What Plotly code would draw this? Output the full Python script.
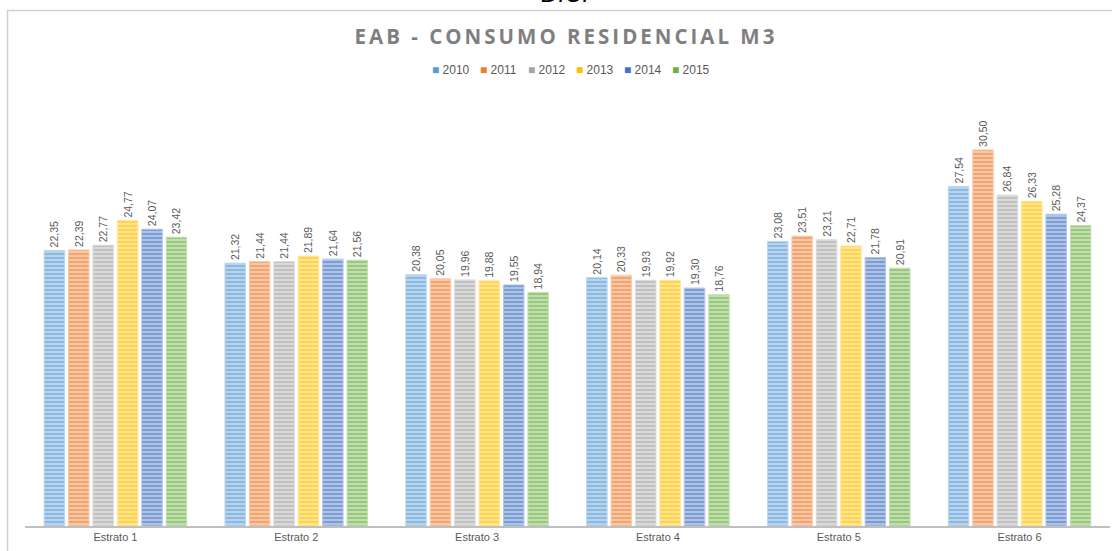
import plotly.graph_objects as go

categories = ["Estrato 1", "Estrato 2", "Estrato 3", "Estrato 4", "Estrato 5", "Estrato 6"]
years = ["2010", "2011", "2012", "2013", "2014", "2015"]
values = {
    "2010": [22.35, 21.32, 20.38, 20.14, 23.08, 27.54],
    "2011": [22.39, 21.44, 20.05, 20.33, 23.51, 30.50],
    "2012": [22.77, 21.44, 19.96, 19.93, 23.21, 26.84],
    "2013": [24.77, 21.89, 19.88, 19.92, 22.71, 26.33],
    "2014": [24.07, 21.64, 19.55, 19.30, 21.78, 25.28],
    "2015": [23.42, 21.56, 18.94, 18.76, 20.91, 24.37],
}
colors = ["#5B9BD5", "#ED7D31", "#A5A5A5", "#FFC000", "#4472C4", "#70AD47"]
light = ["#BDD7EE", "#F8CBAD", "#DBDBDB", "#FFE699", "#B4C7E7", "#C5E0B4"]

W, HT = 1112, 551
L, R, T, B = 25, 2, 80, 25
PW, PH = W - L - R, HT - T - B


def px(x):
    return (x - L) / PW


def py(y):
    return (HT - B - y) / PH


fig = go.Figure()
for y, c, lc in zip(years, colors, light):
    fig.add_trace(go.Bar(
        x=categories, y=values[y], name=y,
        marker=dict(color=c, line=dict(color=lc, width=1),
                    pattern=dict(shape="-", fgcolor=c, bgcolor=lc, size=4, solidity=0.55)),
        texttemplate="%{y:.2f}", textposition="outside", textangle=-90,
        constraintext="none",
        textfont=dict(size=10.5, color="#595959", family="Liberation Sans"),
        cliponaxis=False,
    ))

fig.update_layout(
    width=W, height=HT,
    margin=dict(l=L, r=R, t=T, b=B),
    paper_bgcolor="white", plot_bgcolor="white",
    separators=",.",
    barmode="group", bargap=0.19, bargroupgap=0.16,
    title=dict(text="<span style='letter-spacing:3px'><b>EAB - CONSUMO RESIDENCIAL M3</b></span>",
               x=566 / W, xanchor="center", y=1 - 37 / HT, yanchor="middle",
               font=dict(size=20.5, color="#7F7F7F", family="Open Sans")),
    showlegend=False,
    xaxis=dict(showline=True, linecolor="#BFBFBF", linewidth=2, ticks="",
               tickfont=dict(size=11, color="#595959", family="Liberation Sans")),
    yaxis=dict(range=[0, 36.17], visible=False, showgrid=False),
)

# legend drawn as annotations (compact Excel-style spacing)
leg_x0, leg_step = 430, 48
for i, (yr, c) in enumerate(zip(years, colors)):
    fig.add_annotation(
        text=f"<span style='color:{c}'>■</span> {yr}", xref="paper", yref="paper",
        x=px(leg_x0 + i * leg_step), y=py(70), xanchor="left", yanchor="middle",
        showarrow=False, font=dict(size=12, color="#595959", family="Liberation Sans"))

fig.add_shape(type="line", xref="paper", yref="paper",
              x0=px(7), x1=px(W + 5), y0=py(10.5), y1=py(10.5),
              line=dict(color="#D0D0D0", width=1.5))
fig.add_shape(type="line", xref="paper", yref="paper",
              x0=px(7.5), x1=px(7.5), y0=py(10), y1=py(HT + 5),
              line=dict(color="#D0D0D0", width=1.5))
fig.add_annotation(text="<i>D.C.</i>", xref="paper", yref="paper",
                   x=px(565), y=py(9), yanchor="bottom", showarrow=False,
                   font=dict(size=24, color="black", family="Liberation Sans"))

fig.write_html("out.html", config={"displayModeBar": False},
               post_script="document.body.style.margin='0px';")
